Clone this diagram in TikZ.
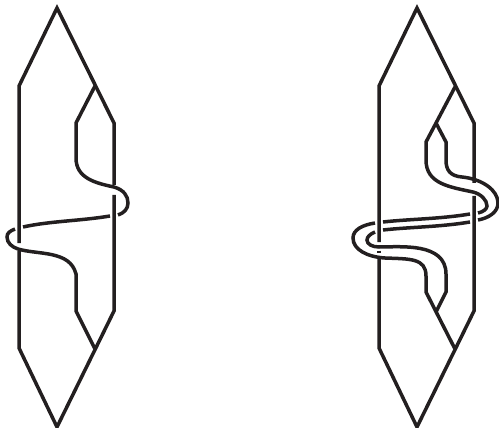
\documentclass[tikz,border=0pt]{standalone}
\usepackage{xcolor}
\definecolor{StrandInk}{HTML}{231f20}
\usepackage{tikz}
\tikzset{strand/.style={line width=3.5pt,StrandInk,line join=miter}}

\begin{document}
\begin{tikzpicture}[x=1pt,y=-1pt]
  \useasboundingbox (0,0) rectangle (499,428);
  % left figure
  \draw[strand] (19,243)--(19,86)--(57,8)--(114,123)--(114,185);
  \draw[strand] (114,195)--(114,311)--(57,427)--(19,348)--(19,251);
  \draw[strand] (95,86)--(76,123)--(76,158) .. controls (76,178) and (95,183) .. (114,187)
    .. controls (124,190) and (128,196) .. (128,203) .. controls (128,209) and (124,213) .. (118,215);
  \draw[strand] (110,216) .. controls (80,221) and (50,221) .. (23,227);
  \draw[strand] (15,229) .. controls (10,231) and (7,233) .. (7,237) .. controls (7,243) and (12,247) .. (18,249)
    .. controls (38,255) and (70,250) .. (76,274)--(76,311)--(95,349);
  % right figure
  \draw[strand] (379,242)--(379,86)--(417,8)--(474,123)--(474,183);
  \draw[strand] (474,196)--(474,311)--(417,427)--(379,348)--(379,258);
  \draw[strand] (379,250.5)--(379,252.5);
  \draw[strand] (455,87)--(426,142)--(426,160) .. controls (426,184) and (450,187) .. (473,192)
    .. controls (481,194) and (487,200) .. (487,206) .. controls (487,209) and (483,212) .. (478,213);
  \draw[strand] (436,123)--(446,142)--(446,160) .. controls (446,170) and (450,176) .. (462,177)
    .. controls (482,179) and (498,190) .. (498,203) .. controls (498,212) and (489,218) .. (478,220);
  \draw[strand] (470,214) .. controls (440,219) and (410,219) .. (383,222);
  \draw[strand] (470,222) .. controls (440,227) and (410,227) .. (383,230);
  \draw[strand] (375,223) .. controls (362,225) and (353,230) .. (353,238) .. controls (353,250) and (368,257) .. (385,258)
    .. controls (410,259) and (426,258) .. (426,276)--(426,292)--(455,349);
  \draw[strand] (375,232) .. controls (370,234) and (367,237) .. (367,240) .. controls (367,244) and (372,247) .. (379,247)
    .. controls (400,247) and (446,242) .. (446,274)--(446,292)--(436,312);
\end{tikzpicture}
\end{document}
